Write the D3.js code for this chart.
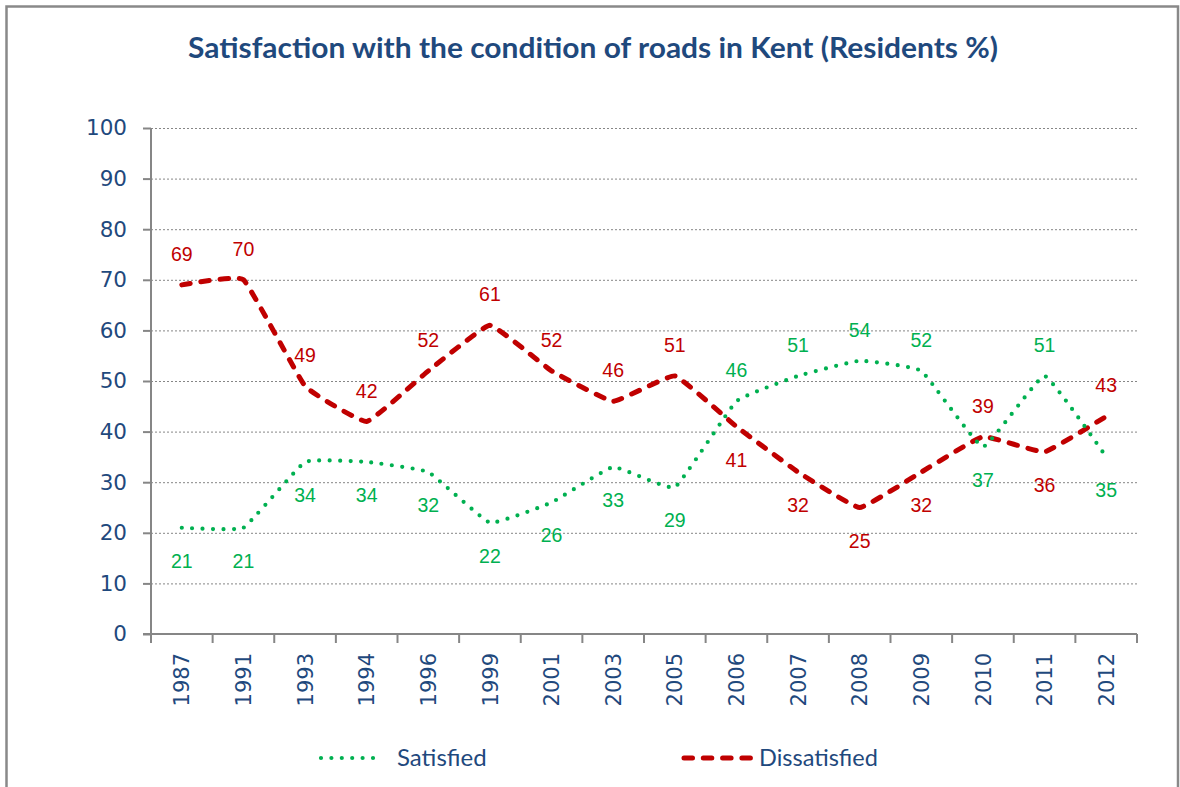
<!DOCTYPE html>
<html>
<head>
<meta charset="utf-8">
<script src="https://cdn.jsdelivr.net/npm/d3@7"></script>
<style>
  html, body { margin: 0; padding: 0; background: #fff; }
  svg { display: block; }
</style>
</head>
<body>
<svg id="chart" width="1180" height="787"></svg>
<script>
// ---- data ----
const years = ["1987","1991","1993","1994","1996","1999","2001","2003","2005","2006","2007","2008","2009","2010","2011","2012"];
const satisfied = [21,21,34,34,32,22,26,33,29,46,51,54,52,37,51,35];
const dissatisfied = [69,70,49,42,52,61,52,46,51,41,32,25,32,39,36,43];
const satisfiedLabelSide = ["below","below","below","below","below","below","below","below","below","above","above","above","above","below","above","below"];
const dissatisfiedLabelSide = ["above","above","above","above","above","above","above","above","above","below","below","below","below","above","below","above"];
const yTicks = [0,10,20,30,40,50,60,70,80,90,100];
const titleText = "Satisfaction with the condition of roads in Kent (Residents %)";
const seriesNames = ["Satisfied","Dissatisfied"];

// ---- layout ----
const W = 1180, H = 787;
const plot = {left: 151, right: 1137, top: 128, bottom: 634};
const green = "#00b050", red = "#c00000", axisGray = "#868686", textBlue = "#1f497d";
const tickFont = "'DejaVu Sans', sans-serif";

const svg = d3.select("#chart");

// border
svg.append("rect")
  .attr("x", 6.5).attr("y", 6.5).attr("width", 1171.5).attr("height", 800)
  .attr("fill", "#fff").attr("stroke", "#898989").attr("stroke-width", 2.5);

// title
svg.append("text")
  .attr("x", 593).attr("y", 58)
  .attr("text-anchor", "middle")
  .attr("font-family", "Lato, 'Open Sans', sans-serif")
  .attr("font-weight", "bold")
  .attr("font-size", 28)
  .attr("textLength", 810)
  .attr("lengthAdjust", "spacingAndGlyphs")
  .attr("fill", textBlue)
  .text(titleText);

const x = d3.scaleBand().domain(years).range([plot.left, plot.right]).padding(0);
const y = d3.scaleLinear().domain([0, 100]).range([plot.bottom, plot.top]);

// gridlines
svg.append("g").selectAll("line")
  .data(yTicks.filter(d => d > 0))
  .join("line")
  .attr("x1", plot.left).attr("x2", plot.right)
  .attr("y1", d => y(d) + 0.5).attr("y2", d => y(d) + 0.5)
  .attr("stroke", axisGray).attr("stroke-width", 1)
  .attr("stroke-dasharray", "2,2");

// y axis
const yAxis = svg.append("g")
  .attr("transform", `translate(${plot.left},0)`)
  .call(d3.axisLeft(y).tickValues(yTicks).tickSize(8).tickPadding(16).tickFormat(d3.format("d")));
yAxis.select(".domain").attr("stroke", axisGray).attr("stroke-width", 2).attr("d", `M0,${plot.top}V${plot.bottom}`);
yAxis.selectAll(".tick line").attr("stroke", axisGray).attr("stroke-width", 2);
yAxis.selectAll(".tick text")
  .attr("font-family", tickFont).attr("font-size", 21.5).attr("fill", textBlue);

// x axis
const xAxis = svg.append("g")
  .attr("transform", `translate(0,${plot.bottom})`)
  .call(d3.axisBottom(x).tickSize(0).tickPadding(0));
xAxis.select(".domain").attr("stroke", axisGray).attr("stroke-width", 2).attr("d", `M${plot.left - 8},0H${plot.right}`);
xAxis.selectAll(".tick text")
  .attr("font-family", tickFont).attr("font-size", 21).attr("fill", textBlue)
  .attr("text-anchor", "end")
  .attr("transform", "rotate(-90)")
  .attr("x", -19).attr("y", 0).attr("dy", "0.36em");
// boundary tick marks
const bounds = years.map(d => x(d)).concat([x.range()[1]]);
xAxis.append("g").selectAll("line")
  .data(bounds)
  .join("line")
  .attr("x1", d => d).attr("x2", d => d)
  .attr("y1", 0).attr("y2", 9)
  .attr("stroke", axisGray).attr("stroke-width", 2);

const cx = d => x(d) + x.bandwidth() / 2;
const line = d3.line()
  .x((d, i) => cx(years[i]))
  .y(d => y(d))
  .curve(d3.curveCardinal.tension(0.7));

// series lines
svg.append("path")
  .datum(dissatisfied)
  .attr("d", line)
  .attr("fill", "none").attr("stroke", red).attr("stroke-width", 5)
  .attr("stroke-linecap", "round").attr("stroke-dasharray", "8.5,10.8");

svg.append("path")
  .datum(satisfied)
  .attr("d", line)
  .attr("fill", "none").attr("stroke", green).attr("stroke-width", 4.2)
  .attr("stroke-linecap", "round").attr("stroke-dasharray", "0,10.4");

// data labels
function labels(values, sides, color) {
  svg.append("g").selectAll("text")
    .data(values)
    .join("text")
    .attr("x", (d, i) => cx(years[i]))
    .attr("y", (d, i) => y(d) + (sides[i] === "above" ? -31 : 33))
    .attr("dy", "0.36em")
    .attr("text-anchor", "middle")
    .attr("font-family", "'Liberation Sans', Arial, sans-serif")
    .attr("font-size", 19.5)
    .attr("fill", color)
    .text(d => d);
}
labels(dissatisfied, dissatisfiedLabelSide, red);
labels(satisfied, satisfiedLabelSide, green);

// legend
const legendY = 758;
const lg = svg.append("g");
lg.append("line").attr("x1", 321).attr("x2", 383).attr("y1", legendY).attr("y2", legendY)
  .attr("stroke", green).attr("stroke-width", 4.2).attr("stroke-linecap", "round").attr("stroke-dasharray", "0,10.4");
lg.append("text").attr("x", 397).attr("y", legendY).attr("dy", "0.35em")
  .attr("font-family", "Lato, 'Open Sans', sans-serif").attr("font-size", 24).attr("fill", textBlue)
  .text(seriesNames[0]);
lg.append("line").attr("x1", 684).attr("x2", 753).attr("y1", legendY).attr("y2", legendY)
  .attr("stroke", red).attr("stroke-width", 5).attr("stroke-linecap", "round").attr("stroke-dasharray", "8.5,10.8");
lg.append("text").attr("x", 759).attr("y", legendY).attr("dy", "0.35em")
  .attr("font-family", "Lato, 'Open Sans', sans-serif").attr("font-size", 23.5).attr("fill", textBlue)
  .text(seriesNames[1]);
</script>
</body>
</html>
